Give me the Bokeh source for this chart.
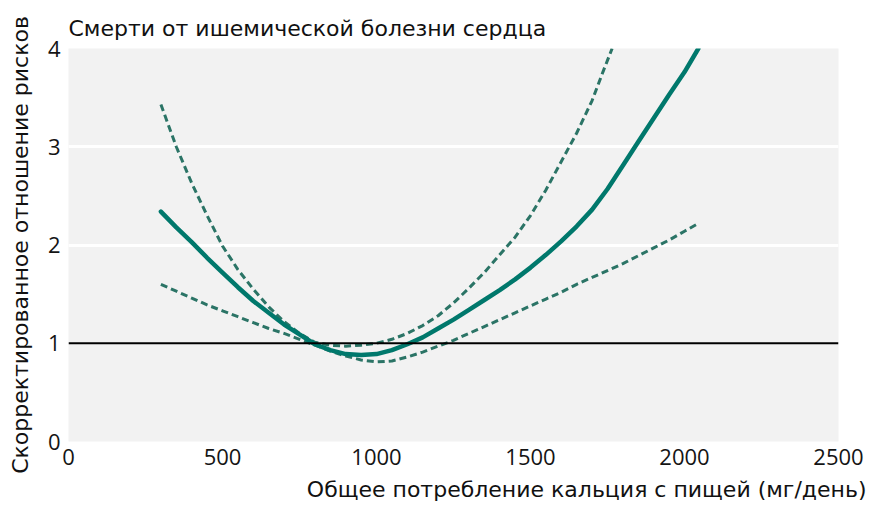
from bokeh.embed import file_html
from bokeh.models import FixedTicker, Span, Title
from bokeh.plotting import figure
from bokeh.resources import INLINE

# Total dietary calcium intake (mg/day) and adjusted hazard ratio
intake = [300, 350, 400, 450, 500, 550, 600, 650, 700, 750, 800, 850, 900, 950,
          1000, 1050, 1100, 1150, 1200, 1250, 1300, 1350, 1400, 1450, 1500, 1550,
          1600, 1650, 1700, 1750, 1800, 1850, 1900, 1950, 2000, 2045]
hazard_ratio = [2.34, 2.18, 2.03, 1.87, 1.72, 1.57, 1.43, 1.31, 1.19, 1.09, 0.99,
                0.93, 0.89, 0.88, 0.89, 0.93, 0.99, 1.06, 1.15, 1.24, 1.34, 1.44,
                1.54, 1.65, 1.77, 1.90, 2.04, 2.19, 2.36, 2.57, 2.81, 3.05, 3.29,
                3.53, 3.76, 4.00]

# upper 95% confidence limit
upper_intake = [300, 350, 400, 450, 500, 550, 600, 650, 700, 750, 800, 850, 900,
                950, 1000, 1050, 1100, 1150, 1200, 1250, 1300, 1350, 1400, 1450,
                1500, 1550, 1600, 1650, 1700, 1735, 1765]
upper_ci = [3.43, 3.00, 2.63, 2.30, 1.99, 1.75, 1.55, 1.37, 1.22, 1.10, 1.01, 0.98,
            0.97, 0.98, 1.00, 1.04, 1.10, 1.18, 1.28, 1.41, 1.56, 1.72, 1.90, 2.08,
            2.30, 2.56, 2.85, 3.14, 3.47, 3.76, 4.00]

# lower 95% confidence limit
lower_intake = [300, 350, 400, 450, 500, 550, 600, 650, 700, 750, 800, 850, 900,
                950, 1000, 1050, 1100, 1150, 1200, 1250, 1300, 1350, 1400, 1450,
                1500, 1550, 1600, 1650, 1700, 1750, 1800, 1850, 1900, 1950, 2000, 2045]
lower_ci = [1.60, 1.53, 1.46, 1.39, 1.33, 1.27, 1.21, 1.15, 1.10, 1.04, 0.98, 0.92,
            0.87, 0.83, 0.81, 0.82, 0.86, 0.91, 0.97, 1.03, 1.10, 1.17, 1.24, 1.31,
            1.38, 1.45, 1.52, 1.60, 1.67, 1.74, 1.81, 1.89, 1.97, 2.05, 2.14, 2.22]

x_ticks = [0, 500, 1000, 1500, 2000, 2500]
y_ticks = [0, 1, 2, 3, 4]

title_text = "Смерти от ишемической болезни сердца"
x_label_text = "Общее потребление кальция с пищей (мг/день)"
y_label_text = "Скорректированное отношение рисков"

SOLID = "#00786c"
DASHED = "#2b7466"
TEXT = "#111111"

p = figure(
    width=872, height=513,
    x_range=(0, 2500), y_range=(0, 4),
    output_backend="svg", toolbar_location=None,
    min_border_left=68, min_border_right=34,
    min_border_top=48, min_border_bottom=72,
)
p.background_fill_color = "#f2f2f2"
p.border_fill_color = "white"
p.outline_line_color = None

# axes: no lines or ticks, only the labels
for ax in (p.xaxis, p.yaxis):
    ax.axis_line_color = None
    ax.major_tick_line_color = None
    ax.minor_tick_line_color = None
    ax.major_tick_out = 0
    ax.major_tick_in = 0
    ax.major_label_text_color = "#141414"
    ax.major_label_text_font = "Open Sans"
p.xaxis.ticker = FixedTicker(ticks=x_ticks)
p.yaxis.ticker = FixedTicker(ticks=y_ticks)
p.xaxis.major_label_text_font_size = "22px"
p.yaxis.major_label_text_font_size = "22px"
p.xaxis.major_label_standoff = 7
p.yaxis.major_label_standoff = 8

p.yaxis.axis_label = y_label_text
p.yaxis.axis_label_text_font = "DejaVu Sans"
p.yaxis.axis_label_text_font_style = "normal"
p.yaxis.axis_label_text_font_size = "22px"
p.yaxis.axis_label_text_color = TEXT
p.yaxis.axis_label_standoff = 12

p.xgrid.grid_line_color = None
p.ygrid.ticker = FixedTicker(ticks=[2, 3])
p.ygrid.grid_line_color = "white"
p.ygrid.grid_line_width = 3

# reference line at hazard ratio 1
p.add_layout(Span(location=1, dimension="width", line_color="black", line_width=2))

p.line(upper_intake, upper_ci, line_color=DASHED, line_width=3, line_dash="7 4")
p.line(lower_intake, lower_ci, line_color=DASHED, line_width=3, line_dash="7 4")
p.line(intake, hazard_ratio, line_color=SOLID, line_width=4.5, line_cap="round")

p.add_layout(Title(text=title_text, align="left", text_font="DejaVu Sans",
                   text_font_style="normal", text_font_size="22px",
                   text_color=TEXT, standoff=15), "above")
p.add_layout(Title(text=x_label_text, align="right", offset=-28,
                   text_font="DejaVu Sans", text_font_style="normal",
                   text_font_size="22px", text_color=TEXT, standoff=15), "below")

open("out.html", "w").write(file_html(p, INLINE))
